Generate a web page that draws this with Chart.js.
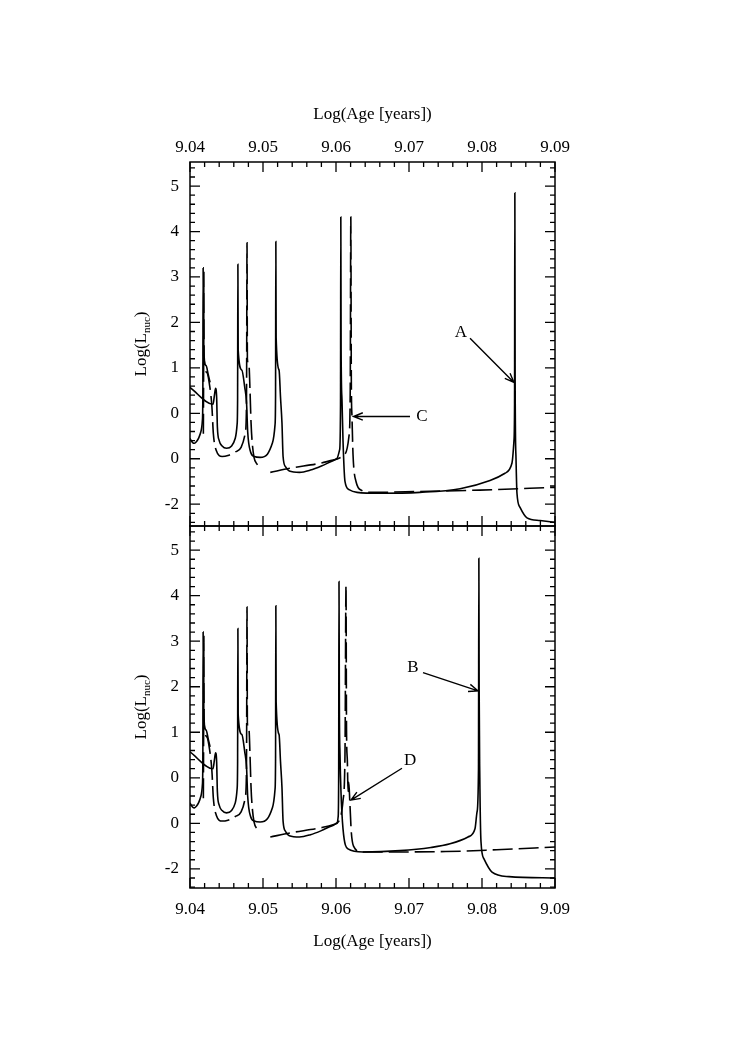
<!DOCTYPE html>
<html>
<head>
<meta charset="utf-8">
<script src="https://cdn.jsdelivr.net/npm/chart.js@4.4.1/dist/chart.umd.min.js"></script>
<style>
  html, body { margin: 0; padding: 0; background: #fff; }
  #wrap { position: relative; width: 732px; height: 1053px; overflow: hidden; }
  canvas { position: absolute; left: 0; }
  #topPanel { top: 0; }
  #bottomPanel { top: 492px; }
</style>
</head>
<body>
<div id="wrap">
  <canvas id="topPanel" width="732" height="560"></canvas>
  <canvas id="bottomPanel" width="732" height="561"></canvas>
</div>
<script>
// Eixos
const xTickValues = [9.04, 9.05, 9.06, 9.07, 9.08, 9.09];
const xTickLabels = ['9.04', '9.05', '9.06', '9.07', '9.08', '9.09'];
const yTickValues = [-2, -1, 0, 1, 2, 3, 4, 5];
const yTickLabels = ['-2', '0', '0', '1', '2', '3', '4', '5'];

// Curva contínua: primeiro pulso (trecho separado)
const pulse1Age = [9.0400, 9.0402, 9.0404, 9.0406, 9.0409, 9.0412, 9.0415, 9.0417, 9.04176, 9.04180, 9.04184, 9.0422, 9.0425, 9.04275];
const pulse1Lum = [-0.55, -0.61, -0.65, -0.66, -0.62, -0.54, -0.40, -0.15, 0.40, 3.20, 1.35, 1.05, 0.85, 0.68];

// Curva contínua: parte comum aos dois painéis
const solidEarlyAge = [9.0400, 9.04315, 9.04335, 9.04350, 9.04365, 9.04375, 9.04400, 9.04440, 9.04500, 9.04570,
  9.04620, 9.04645, 9.04652, 9.04656, 9.04660, 9.04710, 9.04750, 9.04775, 9.04790, 9.04830,
  9.04880, 9.04960, 9.05060, 9.05130, 9.05165, 9.05172, 9.05176, 9.05180, 9.05220, 9.05240,
  9.05260, 9.05275, 9.05310, 9.05360, 9.05500, 9.05650, 9.05800, 9.05950, 9.06010];
const solidEarlyLum = [0.57, 0.20, 0.40, 0.55, 0.35, -0.30, -0.60, -0.72, -0.77, -0.72,
  -0.55, -0.25, 0.30, 3.28, 1.39, 0.95, 0.57, 0.22, -0.40, -0.85,
  -0.95, -0.97, -0.90, -0.65, -0.25, 0.40, 3.78, 1.67, 0.95, 0.35,
  -0.22, -0.95, -1.18, -1.27, -1.30, -1.25, -1.16, -1.05, -1.00];

// Curva contínua: final de cada painel
const solidTopLateAge = [9.06050, 9.06062, 9.06066, 9.06070, 9.06082, 9.06096, 9.06123, 9.06178, 9.06288, 9.06600,
  9.07150, 9.07700, 9.08110, 9.08315, 9.08410, 9.08438, 9.08446, 9.08450, 9.08454, 9.08466,
  9.08479, 9.08521, 9.08616, 9.08795, 9.09000];
const solidTopLateLum = [-0.80, 0.20, 4.32, 1.40, 0.30, -0.60, -1.50, -1.68, -1.74, -1.76,
  -1.74, -1.66, -1.48, -1.32, -1.10, -0.60, 0.20, 4.85, 0.68, -1.00,
  -1.76, -2.07, -2.30, -2.36, -2.40];
const solidBotLateAge = [9.06030, 9.06037, 9.06041, 9.06046, 9.06055, 9.06068, 9.06096, 9.06164, 9.06370, 9.06877,
  9.07300, 9.07562, 9.07808, 9.07904, 9.07932, 9.07952, 9.07957, 9.07961, 9.07970, 9.07986,
  9.08027, 9.08137, 9.08370, 9.09000];
const solidBotLateLum = [-0.85, 0.20, 4.31, 1.60, 0.50, -0.30, -1.12, -1.56, -1.63, -1.60,
  -1.53, -1.45, -1.30, -1.12, -0.75, 0.20, 4.82, 1.93, 0.00, -1.40,
  -1.78, -2.07, -2.17, -2.20];

// Curva tracejada
const dashEarlyAge = [9.04183, 9.04186, 9.04190, 9.04194, 9.04230, 9.04270, 9.04300, 9.04320, 9.04360, 9.04440,
  9.04520, 9.04620, 9.04700, 9.04755, 9.04772, 9.04776, 9.04781, 9.04786, 9.04808, 9.04822,
  9.04836, 9.04850, 9.04877, 9.04918, 9.04959];
const dashEarlyLum = [-0.45, 0.70, 3.10, 1.25, 0.90, 0.60, 0.15, -0.45, -0.82, -0.95,
  -0.93, -0.85, -0.75, -0.45, 0.00, 1.00, 3.75, 1.20, 1.05, 0.50,
  -0.20, -0.60, -0.97, -1.12, -1.20];
const dashMidAge = [9.05100, 9.05370, 9.05780, 9.05960];
const dashMidLum = [-1.30, -1.21, -1.10, -1.03];
const dashTopLateAge = [9.06123, 9.06178, 9.06195, 9.06203, 9.06210, 9.06219, 9.06233, 9.06274, 9.06356, 9.06466,
  9.07150, 9.07970, 9.09000];
const dashTopLateLum = [-0.90, -0.50, 0.50, 4.32, 0.70, -0.07, -0.90, -1.50, -1.70, -1.74,
  -1.72, -1.69, -1.63];
const dashBotLateAge = [9.06055, 9.06096, 9.06123, 9.06137, 9.06144, 9.06155, 9.06165, 9.06175, 9.06190, 9.06210,
  9.06240, 9.06356, 9.07500, 9.08200, 9.09000];
const dashBotLateLum = [-0.90, -0.50, 0.50, 4.22, 1.07, 0.40, -0.30, -0.10, -0.55, -1.20,
  -1.50, -1.63, -1.62, -1.58, -1.52];

// Marcas A, B, C, D (coordenadas de dados)
const topMarks = [
  { text: 'A', at: [9.07712, 1.78], from: [9.07836, 1.65], to: [9.08438, 0.68] },
  { text: 'C', at: [9.07178, -0.07], from: [9.07014, -0.07], to: [9.06240, -0.07] }
];
const bottomMarks = [
  { text: 'B', at: [9.07055, 2.42], from: [9.07192, 2.31], to: [9.07945, 1.91] },
  { text: 'D', at: [9.07014, 0.39], from: [9.06904, 0.21], to: [9.06205, -0.49] }
];

const FONT = '"Liberation Serif", "Times New Roman", serif';
Chart.defaults.font.family = FONT;
Chart.defaults.font.size = 17;
Chart.defaults.color = '#000';

// Junta trechos, com null entre trechos separados
function toPoints(pieces) {
  const pts = [];
  pieces.forEach(p => {
    if (p.gap && pts.length) pts.push({ x: p.age[0], y: null });
    p.age.forEach((a, i) => pts.push({ x: a, y: p.lum[i] }));
  });
  return pts;
}

// Moldura com marcas para dentro nos quatro lados
const frameTicks = {
  id: 'frameTicks',
  afterDraw(chart) {
    const { ctx, chartArea: a, scales } = chart;
    const x = scales.x, y = scales.y;
    ctx.save();
    ctx.strokeStyle = '#000';
    ctx.lineWidth = 1.5;
    ctx.strokeRect(a.left, a.top, a.right - a.left, a.bottom - a.top);
    ctx.lineWidth = 1.3;
    ctx.beginPath();
    for (let i = 0; i <= 25; i++) {
      const px = x.getPixelForValue(9.04 + i * 0.002);
      const len = i % 5 === 0 ? 10 : 5;
      ctx.moveTo(px, a.top); ctx.lineTo(px, a.top + len);
      ctx.moveTo(px, a.bottom); ctx.lineTo(px, a.bottom - len);
    }
    for (let i = -15; i <= 30; i++) {
      const v = i * 0.2;
      if (v < y.min || v > y.max) continue;
      const py = y.getPixelForValue(v);
      const len = i % 5 === 0 ? 10 : 5;
      ctx.moveTo(a.left, py); ctx.lineTo(a.left + len, py);
      ctx.moveTo(a.right, py); ctx.lineTo(a.right - len, py);
    }
    ctx.stroke();
    ctx.restore();
  }
};

// Título do eixo y com subscrito
const yTitle = {
  id: 'yTitle',
  afterDraw(chart) {
    const { ctx, chartArea: a } = chart;
    const big = '17px ' + FONT, small = '11px ' + FONT;
    ctx.save();
    ctx.translate(146, (a.top + a.bottom) / 2);
    ctx.rotate(-Math.PI / 2);
    ctx.fillStyle = '#000';
    ctx.textBaseline = 'alphabetic';
    ctx.font = big;
    const w1 = ctx.measureText('Log(L').width;
    const w3 = ctx.measureText(')').width;
    ctx.font = small;
    const w2 = ctx.measureText('nuc').width;
    const x0 = -(w1 + w2 + w3) / 2;
    ctx.font = big; ctx.fillText('Log(L', x0, 0);
    ctx.font = small; ctx.fillText('nuc', x0 + w1, 4);
    ctx.font = big; ctx.fillText(')', x0 + w1 + w2, 0);
    ctx.restore();
  }
};

// Rótulos com setas
const marksPlugin = {
  id: 'marks',
  afterDraw(chart, args, opts) {
    const { ctx, scales } = chart;
    const px = p => [scales.x.getPixelForValue(p[0]), scales.y.getPixelForValue(p[1])];
    ctx.save();
    ctx.strokeStyle = '#000';
    ctx.fillStyle = '#000';
    ctx.lineWidth = 1.4;
    ctx.font = '17px ' + FONT;
    ctx.textAlign = 'center';
    ctx.textBaseline = 'middle';
    (opts.items || []).forEach(m => {
      const [lx, ly] = px(m.at);
      ctx.fillText(m.text, lx, ly);
      const [x0, y0] = px(m.from);
      const [x1, y1] = px(m.to);
      const ang = Math.atan2(y1 - y0, x1 - x0);
      ctx.beginPath();
      ctx.moveTo(x0, y0); ctx.lineTo(x1, y1);
      ctx.moveTo(x1 - 10 * Math.cos(ang - 0.38), y1 - 10 * Math.sin(ang - 0.38));
      ctx.lineTo(x1, y1);
      ctx.lineTo(x1 - 10 * Math.cos(ang + 0.38), y1 - 10 * Math.sin(ang + 0.38));
      ctx.stroke();
    });
    ctx.restore();
  }
};

function makePanel(id, cfg) {
  const ctx = document.getElementById(id).getContext('2d');
  new Chart(ctx, {
    type: 'line',
    data: {
      datasets: [{
        data: cfg.solid,
        borderColor: '#000',
        borderWidth: 1.6,
        pointRadius: 0,
        cubicInterpolationMode: 'monotone',
        spanGaps: false
      }, {
        data: cfg.dashed,
        borderColor: '#000',
        borderWidth: 1.6,
        borderDash: [20, 6],
        pointRadius: 0,
        cubicInterpolationMode: 'monotone',
        spanGaps: false
      }]
    },
    options: {
      responsive: false,
      animation: false,
      layout: { padding: cfg.padding },
      plugins: {
        legend: { display: false },
        tooltip: { enabled: false },
        marks: { items: cfg.marks }
      },
      scales: {
        x: {
          type: 'linear',
          position: cfg.xPos,
          min: 9.04,
          max: 9.09,
          afterBuildTicks: s => { s.ticks = xTickValues.map(v => ({ value: v })); },
          afterFit: s => { s.height = cfg.xHeight; },
          grid: { display: false, drawTicks: false },
          border: { display: false },
          ticks: {
            autoSkip: false,
            maxRotation: 0,
            padding: cfg.xTickPad,
            callback: (v, i) => xTickLabels[i]
          },
          title: {
            display: true,
            text: 'Log(Age [years])',
            font: { size: 17 },
            padding: cfg.xTitlePad
          }
        },
        y: {
          type: 'linear',
          min: cfg.yMin,
          max: 5.53,
          afterBuildTicks: s => { s.ticks = yTickValues.map(v => ({ value: v })); },
          afterFit: s => { s.width = 40; },
          grid: { display: false, drawTicks: false },
          border: { display: false },
          ticks: {
            autoSkip: false,
            padding: 11,
            callback: (v, i) => yTickLabels[i]
          }
        }
      }
    },
    plugins: [frameTicks, yTitle, marksPlugin]
  });
}

const pulse1 = { age: pulse1Age, lum: pulse1Lum };
const solidEarly = { age: solidEarlyAge, lum: solidEarlyLum, gap: true };
const dashEarly = { age: dashEarlyAge, lum: dashEarlyLum };
const dashMid = { age: dashMidAge, lum: dashMidLum, gap: true };

makePanel('topPanel', {
  solid: toPoints([pulse1, solidEarly, { age: solidTopLateAge, lum: solidTopLateLum }]),
  dashed: toPoints([dashEarly, dashMid, { age: dashTopLateAge, lum: dashTopLateLum }]),
  marks: topMarks,
  xPos: 'top',
  xHeight: 72,
  xTickPad: 4,
  xTitlePad: { top: 14, bottom: 0 },
  yMin: -2.48,
  padding: { left: 150, right: 177, top: 90, bottom: 34 }
});

makePanel('bottomPanel', {
  solid: toPoints([pulse1, solidEarly, { age: solidBotLateAge, lum: solidBotLateLum }]),
  dashed: toPoints([dashEarly, dashMid, { age: dashBotLateAge, lum: dashBotLateLum }]),
  marks: bottomMarks,
  xPos: 'bottom',
  xHeight: 70,
  xTickPad: 11,
  xTitlePad: { top: 0, bottom: 6 },
  yMin: -2.42,
  padding: { left: 150, right: 177, top: 34, bottom: 95 }
});
</script>
</body>
</html>
